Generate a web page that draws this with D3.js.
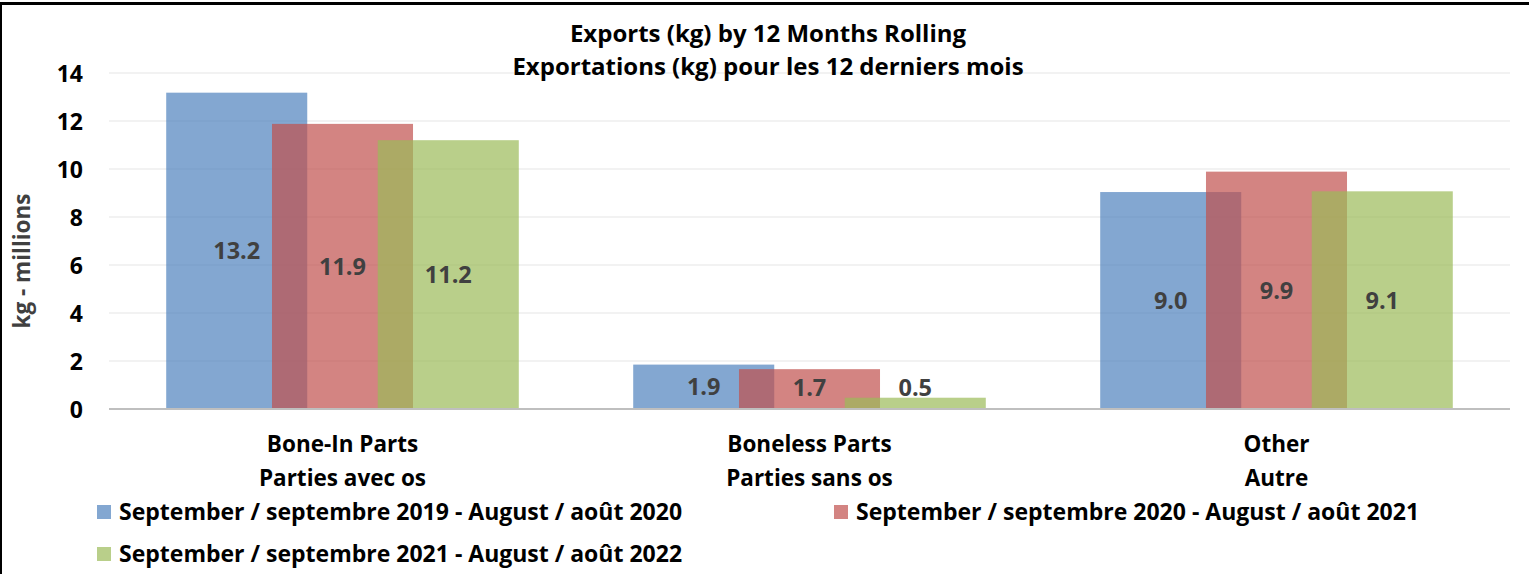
<!DOCTYPE html>
<html>
<head>
<meta charset="utf-8">
<script src="https://cdn.jsdelivr.net/npm/d3@7"></script>
<style>
  body { margin: 0; background: #fff; }
  svg text { font-family: "Open Sans", "Noto Sans", sans-serif; font-weight: bold; }
</style>
</head>
<body>
<div class="visContainer"></div>
<script>
// Chart data.
const categories = [
    ['Bone-In Parts', 'Parties avec os'],
    ['Boneless Parts', 'Parties sans os'],
    ['Other', 'Autre']
];
const seriesNames = [
    'September / septembre 2019 - August / août 2020',
    'September / septembre 2020 - August / août 2021',
    'September / septembre 2021 - August / août 2022'
];
const period2020 = [13.18, 1.85, 9.04];
const period2021 = [11.88, 1.66, 9.89];
const period2022 = [11.2, 0.47, 9.07];
const yTicks = [0, 2, 4, 6, 8, 10, 12, 14];
const titleLines = ['Exports (kg) by 12 Months Rolling', 'Exportations (kg) pour les 12 derniers mois'];

const seriesValues = [period2020, period2021, period2022];
const colors = ['#4F81BD', '#C0504D', '#9BBB59'];

// SVG constants.
const width = 1529;
const height = 574;
const plotLeft = 109;
const plotRight = 1510;
const plotTop = 73;
const plotBottom = 409;

const svg = d3.select('.visContainer')
              .append('svg')
              .attr('width', width)
              .attr('height', height);

// Frame.
svg.append('line')
   .attr('x1', 0).attr('x2', width)
   .attr('y1', 3.5).attr('y2', 3.5)
   .attr('stroke', '#000').attr('stroke-width', 3);
svg.append('line')
   .attr('x1', 1).attr('x2', 1)
   .attr('y1', 2).attr('y2', height)
   .attr('stroke', '#000').attr('stroke-width', 2);

// Scales.
const catKeys = categories.map((c) => c[0]);
const xScale = d3.scaleBand()
                 .domain(catKeys)
                 .range([plotLeft, plotRight]);
const yScale = d3.scaleLinear()
                 .domain([0, 14])
                 .range([plotBottom, plotTop]);

const barWidth = xScale.bandwidth() * 0.302;
const barStep = barWidth * 0.75;
const groupOffset = (xScale.bandwidth() - (barStep * 2 + barWidth)) / 2;
const barX = (cat, s) => xScale(cat) + groupOffset + s * barStep;

// Gridlines.
svg.append('g')
   .selectAll('line')
   .data(yTicks.filter((t) => t > 0))
   .enter()
   .append('line')
   .attr('x1', plotLeft).attr('x2', plotRight)
   .attr('y1', (d) => yScale(d)).attr('y2', (d) => yScale(d))
   .attr('stroke', '#eeeeee').attr('stroke-width', 1.5);

// Y axis tick labels.
const yAxis = d3.axisLeft(yScale).tickValues(yTicks).tickSize(0).tickPadding(0);
svg.append('g')
   .attr('id', 'y-axis')
   .attr('transform', 'translate(83,0)')
   .call(yAxis)
   .call((g) => g.select('.domain').remove())
   .call((g) => g.selectAll('text')
                 .attr('font-family', '"Open Sans", sans-serif')
                 .attr('font-size', '23px')
                 .attr('fill', '#000')
                 .attr('dy', '0.36em'));

// Bars.
seriesValues.forEach((values, s) => {
    svg.append('g')
       .selectAll('rect')
       .data(values)
       .enter()
       .append('rect')
       .attr('x', (d, i) => barX(catKeys[i], s))
       .attr('y', (d) => yScale(d))
       .attr('width', barWidth)
       .attr('height', (d) => yScale(0) - yScale(d))
       .attr('fill', colors[s])
       .attr('fill-opacity', 0.7);
});

// Axis line.
svg.append('line')
   .attr('x1', plotLeft).attr('x2', plotRight)
   .attr('y1', yScale(0)).attr('y2', yScale(0))
   .attr('stroke', '#bfbfbf').attr('stroke-width', 2);

// Data labels.
seriesValues.forEach((values, s) => {
    svg.append('g')
       .selectAll('text')
       .data(values)
       .enter()
       .append('text')
       .attr('x', (d, i) => barX(catKeys[i], s) + barWidth / 2)
       .attr('y', (d) => Math.min((yScale(d) + yScale(0)) / 2, yScale(0) - 22) + 8.5)
       .attr('text-anchor', 'middle')
       .attr('font-size', '23.5px')
       .attr('fill', '#404040')
       .text((d) => (Math.round(d * 10) / 10).toFixed(1));
});

// Category labels.
const catG = svg.append('g').attr('id', 'x-axis');
categories.forEach((c) => {
    c.forEach((line, j) => {
        catG.append('text')
            .attr('x', xScale(c[0]) + xScale.bandwidth() / 2)
            .attr('y', 452 + j * 34)
            .attr('text-anchor', 'middle')
            .attr('font-size', '22.5px')
            .attr('fill', '#000')
            .text(line);
    });
});

// Title.
svg.append('g')
   .attr('id', 'title')
   .selectAll('text')
   .data(titleLines)
   .enter()
   .append('text')
   .attr('x', 768)
   .attr('y', (d, i) => 42 + i * 33)
   .attr('text-anchor', 'middle')
   .attr('font-size', '24px')
   .attr('fill', '#000')
   .text((d) => d);

// Y axis title.
svg.append('text')
   .attr('transform', 'translate(30,261) rotate(-90)')
   .attr('text-anchor', 'middle')
   .attr('font-size', '22.5px')
   .attr('fill', '#404040')
   .text('kg - millions');

// Legend.
const legendPos = [[97, 505], [834, 505], [97, 547]];
seriesNames.forEach((name, s) => {
    const g = svg.append('g')
                 .attr('transform', 'translate(' + legendPos[s][0] + ',' + legendPos[s][1] + ')');
    g.append('rect')
     .attr('width', 14).attr('height', 14)
     .attr('fill', colors[s]).attr('fill-opacity', 0.7);
    g.append('text')
     .attr('x', 22).attr('y', 15)
     .attr('font-size', '23px')
     .attr('fill', '#000')
     .text(name);
});
</script>
</body>
</html>
